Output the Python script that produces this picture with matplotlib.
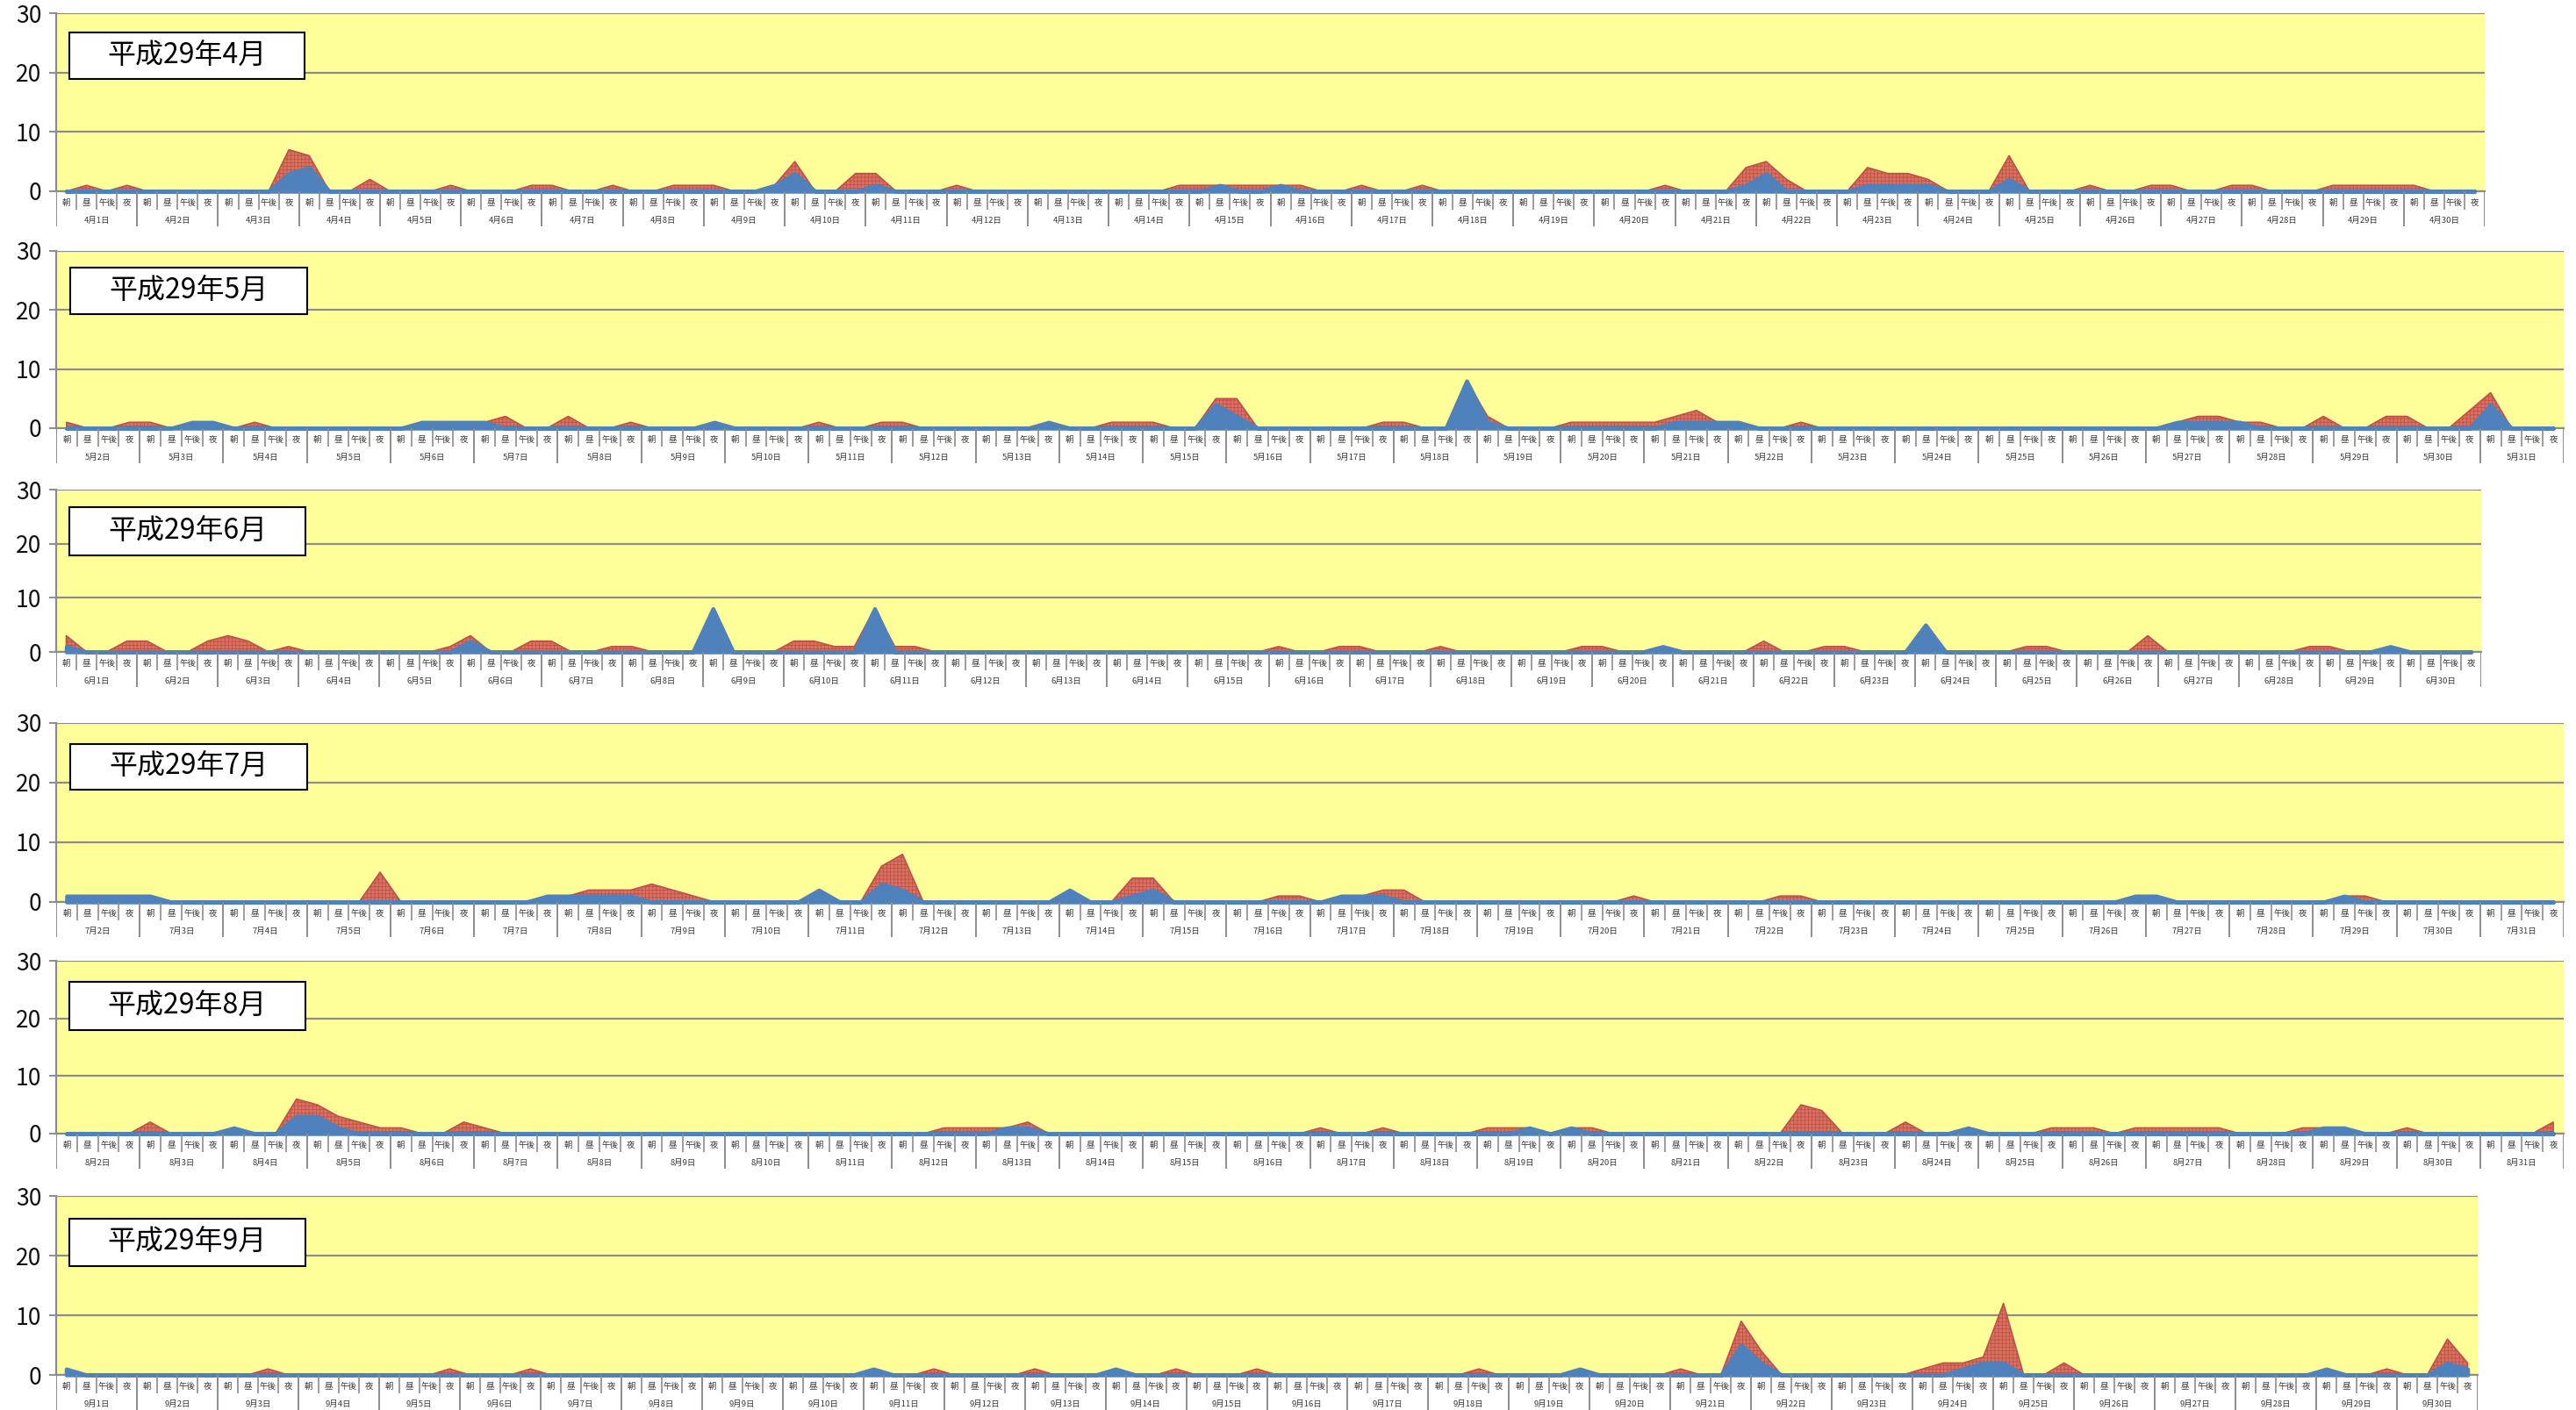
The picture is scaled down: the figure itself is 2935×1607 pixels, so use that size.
import numpy as np
import matplotlib
matplotlib.use("Agg")
import matplotlib.pyplot as plt
from matplotlib.patches import Rectangle

plt.rcParams['font.family'] = ['Noto Sans CJK JP', 'DejaVu Sans']
plt.rcParams['hatch.linewidth'] = 0.6

W, H = 2935, 1607
slots = ['朝', '昼', '午後', '夜']

titles = ['平成29年4月', '平成29年5月', '平成29年6月', '平成29年7月', '平成29年8月', '平成29年9月']
apr_days = ['4月%d日' % d for d in range(1, 31)]
may_days = ['5月%d日' % d for d in range(2, 32)]
jun_days = ['6月%d日' % d for d in range(1, 31)]
jul_days = ['7月%d日' % d for d in range(2, 32)]
aug_days = ['8月%d日' % d for d in range(2, 32)]
sep_days = ['9月%d日' % d for d in range(1, 31)]

# 4 values per day: 朝, 昼, 午後, 夜 (blue = lower series, red = stacked on top)
apr_blue = [
    0,0,0,0, 0,0,0,0, 0,0,0,3, 4,0,0,0, 0,0,0,0,
    0,0,0,0, 0,0,0,0, 0,0,0,0, 0,0,0,1, 3,0,0,0,
    1,0,0,0, 0,0,0,0, 0,0,0,0, 0,0,0,0, 0,1,0,0,
    1,0,0,0, 0,0,0,0, 0,0,0,0, 0,0,0,0, 0,0,0,0,
    0,0,0,1, 3,0,0,0, 0,1,1,1, 1,0,0,0, 2,0,0,0,
    0,0,0,0, 0,0,0,0, 0,0,0,0, 0,0,0,0, 0,0,0,0,
]
apr_red = [
    0,1,0,1, 0,0,0,0, 0,0,0,4, 2,0,0,2, 0,0,0,1,
    0,0,0,1, 1,0,0,1, 0,0,1,1, 1,0,0,0, 2,0,0,3,
    2,0,0,0, 1,0,0,0, 0,0,0,0, 0,0,0,1, 1,0,1,1,
    0,1,0,0, 1,0,0,1, 0,0,0,0, 0,0,0,0, 0,0,0,1,
    0,0,0,3, 2,2,0,0, 0,3,2,2, 1,0,0,0, 4,0,0,0,
    1,0,0,1, 1,0,0,1, 1,0,0,0, 1,1,1,1, 1,0,0,0,
]
may_blue = [
    0,0,0,0, 0,0,1,1, 0,0,0,0, 0,0,0,0, 0,1,1,1,
    1,0,0,0, 0,0,0,0, 0,0,0,1, 0,0,0,0, 0,0,0,0,
    0,0,0,0, 0,0,0,1, 0,0,0,0, 0,0,0,4, 2,0,0,0,
    0,0,0,0, 0,0,0,8, 1,0,0,0, 0,0,0,0, 0,1,1,1,
    1,0,0,0, 0,0,0,0, 0,0,0,0, 0,0,0,0, 0,0,0,0,
    0,1,1,1, 1,0,0,0, 0,0,0,0, 0,0,0,0, 4,0,0,0,
]
may_red = [
    1,0,0,1, 1,0,0,0, 0,1,0,0, 0,0,0,0, 0,0,0,0,
    0,2,0,0, 2,0,0,1, 0,0,0,0, 0,0,0,0, 1,0,0,1,
    1,0,0,0, 0,0,0,0, 0,0,1,1, 1,0,0,1, 3,0,0,0,
    0,0,0,1, 1,0,0,0, 1,0,0,0, 1,1,1,1, 1,1,2,0,
    0,0,0,1, 0,0,0,0, 0,0,0,0, 0,0,0,0, 0,0,0,0,
    0,0,1,1, 0,1,0,0, 2,0,0,2, 2,0,0,3, 2,0,0,0,
]
jun_blue = [
    1,0,0,0, 0,0,0,0, 0,0,0,0, 0,0,0,0, 0,0,0,0,
    2,0,0,0, 0,0,0,0, 0,0,0,0, 8,0,0,0, 0,0,0,0,
    8,0,0,0, 0,0,0,0, 0,0,0,0, 0,0,0,0, 0,0,0,0,
    0,0,0,0, 0,0,0,0, 0,0,0,0, 0,0,0,0, 0,0,0,1,
    0,0,0,0, 0,0,0,0, 0,0,0,0, 5,0,0,0, 0,0,0,0,
    0,0,0,0, 0,0,0,0, 0,0,0,0, 0,0,0,1, 0,0,0,0,
]
jun_red = [
    2,0,0,2, 2,0,0,2, 3,2,0,1, 0,0,0,0, 0,0,0,1,
    1,0,0,2, 2,0,0,1, 1,0,0,0, 0,0,0,0, 2,2,1,1,
    0,1,1,0, 0,0,0,0, 0,0,0,0, 0,0,0,0, 0,0,0,0,
    1,0,0,1, 1,0,0,0, 1,0,0,0, 0,0,0,1, 1,0,0,0,
    0,0,0,0, 2,0,0,1, 1,0,0,0, 0,0,0,0, 0,1,1,0,
    0,0,0,3, 0,0,0,0, 0,0,0,1, 1,0,0,0, 0,0,0,0,
]
jul_blue = [
    1,1,1,1, 1,0,0,0, 0,0,0,0, 0,0,0,0, 0,0,0,0,
    0,0,0,1, 1,1,1,1, 0,0,0,0, 0,0,0,0, 2,0,0,3,
    2,0,0,0, 0,0,0,0, 2,0,0,1, 2,0,0,0, 0,0,0,0,
    0,1,1,1, 0,0,0,0, 0,0,0,0, 0,0,0,0, 0,0,0,0,
    0,0,0,0, 0,0,0,0, 0,0,0,0, 0,0,0,0, 0,0,0,1,
    1,0,0,0, 0,0,0,0, 0,1,0,0, 0,0,0,0, 0,0,0,0,
]
jul_red = [
    0,0,0,0, 0,0,0,0, 0,0,0,0, 0,0,0,5, 0,0,0,0,
    0,0,0,0, 0,1,1,1, 3,2,1,0, 0,0,0,0, 0,0,0,3,
    6,0,0,0, 0,0,0,0, 0,0,0,3, 2,0,0,0, 0,0,1,1,
    0,0,0,1, 2,0,0,0, 0,0,0,0, 0,0,0,1, 0,0,0,0,
    0,0,1,1, 0,0,0,0, 0,0,0,0, 0,0,0,0, 0,0,0,0,
    0,0,0,0, 0,0,0,0, 0,0,1,0, 0,0,0,0, 0,0,0,0,
]
aug_blue = [
    0,0,0,0, 0,0,0,0, 1,0,0,3, 3,1,0,0, 0,0,0,0,
    0,0,0,0, 0,0,0,0, 0,0,0,0, 0,0,0,0, 0,0,0,0,
    0,0,0,0, 0,1,1,0, 0,0,0,0, 0,0,0,0, 0,0,0,0,
    0,0,0,0, 0,0,0,0, 0,0,1,0, 1,0,0,0, 0,0,0,0,
    0,0,0,0, 0,0,0,0, 0,0,0,1, 0,0,0,0, 0,0,0,0,
    0,0,0,0, 0,0,0,0, 1,1,0,0, 0,0,0,0, 0,0,0,0,
]
aug_red = [
    0,0,0,0, 2,0,0,0, 0,0,0,3, 2,2,2,1, 1,0,0,2,
    1,0,0,0, 0,0,0,0, 0,0,0,0, 0,0,0,0, 0,0,0,0,
    0,0,1,1, 1,0,1,0, 0,0,0,0, 0,0,0,0, 0,0,0,0,
    1,0,0,1, 0,0,0,0, 1,1,0,0, 0,1,0,0, 0,0,0,0,
    0,0,0,5, 4,0,0,0, 2,0,0,0, 0,0,0,1, 1,1,0,1,
    1,1,1,1, 0,0,0,1, 0,0,0,0, 1,0,0,0, 0,0,0,2,
]
sep_blue = [
    1,0,0,0, 0,0,0,0, 0,0,0,0, 0,0,0,0, 0,0,0,0,
    0,0,0,0, 0,0,0,0, 0,0,0,0, 0,0,0,0, 0,0,0,0,
    1,0,0,0, 0,0,0,0, 0,0,0,0, 1,0,0,0, 0,0,0,0,
    0,0,0,0, 0,0,0,0, 0,0,0,0, 0,0,0,1, 0,0,0,0,
    0,0,0,5, 2,0,0,0, 0,0,0,0, 0,0,1,2, 2,0,0,0,
    0,0,0,0, 0,0,0,0, 0,0,0,0, 1,0,0,0, 0,0,2,1,
]
sep_red = [
    0,0,0,0, 0,0,0,0, 0,0,1,0, 0,0,0,0, 0,0,0,1,
    0,0,0,1, 0,0,0,0, 0,0,0,0, 0,0,0,0, 0,0,0,0,
    0,0,0,1, 0,0,0,0, 1,0,0,0, 0,0,0,1, 0,0,0,1,
    0,0,0,0, 0,0,0,0, 0,0,1,0, 0,0,0,0, 0,0,0,0,
    1,0,0,4, 2,0,0,0, 0,0,0,0, 1,2,1,1, 10,0,0,2,
    0,0,0,0, 0,0,0,0, 0,0,0,0, 0,0,0,1, 0,0,4,1,
]

months = [
    (titles[0], apr_days, apr_blue, apr_red),
    (titles[1], may_days, may_blue, may_red),
    (titles[2], jun_days, jun_blue, jun_red),
    (titles[3], jul_days, jul_blue, jul_red),
    (titles[4], aug_days, aug_blue, aug_red),
    (titles[5], sep_days, sep_blue, sep_red),
]

# pixel layout: plot left, right, top (30), zero line
boxes = [(64, 2831, 15, 218), (64, 2921, 286, 488), (64, 2827, 558, 743),
         (64, 2921, 824, 1028), (64, 2921, 1095, 1292), (64, 2823, 1363, 1567)]
title_boxes = [(79, 347, 37, 90), (80, 350, 305, 358), (79, 348, 578, 633),
               (80, 350, 848, 900), (79, 348, 1119, 1174), (79, 348, 1389, 1443)]

GRAY = '#8c8c8c'
CAT_H = 40

fig = plt.figure(figsize=(W / 100, H / 100), dpi=100)

for (title, days, blue, red), (l, r, t, z), (bx0, bx1, by0, by1) in zip(months, boxes, title_boxes):
    ax = fig.add_axes([l / W, 1 - z / H, (r - l) / W, (z - t) / H])
    ax.set_facecolor('#FFFF99')
    n = len(blue)
    x = np.arange(n)
    b = np.array(blue, dtype=float)
    tot = b + np.array(red, dtype=float)
    ax.fill_between(x, 0, tot, facecolor='#D9735E', edgecolor='#C0504D',
                    hatch='++++', linewidth=1.2, zorder=2)
    ax.fill_between(x, 0, b, facecolor='#4F81BD', edgecolor='#4F81BD',
                    linewidth=3.2, zorder=3, clip_on=False)
    ax.set_xlim(-0.5, n - 0.5)
    ax.set_ylim(0, 30)
    ax.set_yticks([0, 10, 20, 30])
    ax.set_xticks([])
    ax.set_axisbelow(True)
    ax.grid(axis='y', color=GRAY, linewidth=1.6)
    for s in ['top', 'right']:
        ax.spines[s].set_visible(False)
    for s in ['left', 'bottom']:
        ax.spines[s].set_color(GRAY)
        ax.spines[s].set_linewidth(1.6)
    ax.tick_params(axis='y', length=6, width=1.4, color=GRAY, pad=6,
                   labelsize=19, labelcolor='#111111')

    # category strip (slots + days)
    cax = fig.add_axes([l / W, 1 - (z + CAT_H) / H, (r - l) / W, CAT_H / H])
    cax.set_xlim(-0.5, n - 0.5)
    cax.set_ylim(0, 1)
    cax.axis('off')
    edges = np.arange(n + 1) - 0.5
    day_edges = edges[::4]
    slot_edges = np.array([e for k, e in enumerate(edges) if k % 4])
    cax.vlines(day_edges, 0, 1, color=GRAY, linewidth=1.4)
    cax.vlines(slot_edges, 1 - 21 / CAT_H, 1, color=GRAY, linewidth=1.2)
    for i in range(n):
        cax.text(i, 1 - 13 / CAT_H, slots[i % 4], ha='center', va='center',
                 fontsize=6.8, color='#3a3a3a')
    for d, lab in enumerate(days):
        cax.text(4 * d + 1.5, 1 - 33 / CAT_H, lab, ha='center', va='center',
                 fontsize=6.8, color='#3a3a3a')

    # month title box
    fig.patches.append(Rectangle((bx0 / W, 1 - by1 / H), (bx1 - bx0) / W, (by1 - by0) / H,
                                 transform=fig.transFigure, facecolor='white',
                                 edgecolor='black', linewidth=1.5, zorder=5))
    fig.text((bx0 + bx1) / 2 / W, 1 - (by0 + by1) / 2 / H, title, ha='center',
             va='center', fontsize=23, color='black', zorder=6)

fig.savefig('out.png', dpi=100)
